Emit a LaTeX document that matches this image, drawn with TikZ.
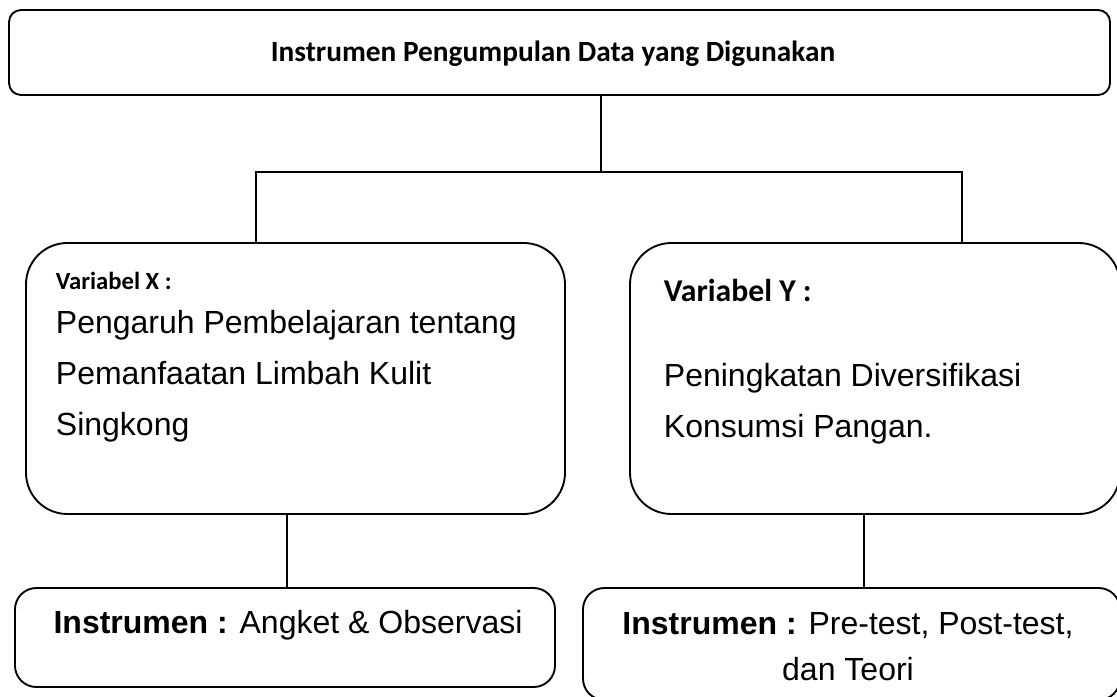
\documentclass[tikz,border=0pt]{standalone}
\usepackage{fontspec}
\setmainfont{Liberation Sans}
\newfontfamily\calibri{Carlito}
\usetikzlibrary{positioning}

\tikzset{
  topbox/.style={draw, rounded corners=9pt, inner sep=0pt},
  varbox/.style={draw, rounded corners=31pt, inner sep=0pt},
  instbox/.style={draw, rounded corners=16pt, inner sep=0pt},
  txt/.style={inner sep=0pt, align=left},
}

\begin{document}
\begin{tikzpicture}[x=0.75pt,y=-0.75pt,line width=1.4pt]
   \useasboundingbox (0,0) rectangle (1117,696);
   % boxes
   \node[topbox, minimum width=1101*0.75pt, minimum height=85*0.75pt] (top) at (559.5,52.5) {};
   \node[varbox, minimum width=539*0.75pt, minimum height=271*0.75pt] (varx) at (295.5,378.5) {};
   \node[varbox, minimum width=490*0.75pt, minimum height=271*0.75pt] (vary) at (875,378.5) {};
   \node[instbox, minimum width=540*0.75pt, minimum height=99*0.75pt] (instx) at (285,637.5) {};
   \node[instbox, minimum width=537*0.75pt, minimum height=112*0.75pt] (insty) at (851.5,644) {};
   % texts (base of a multi-line node = last line)
   \node[txt, anchor=base, font=\calibri\bfseries\fontsize{22}{26}\selectfont] (title) at (553,61.5) {Instrumen Pengumpulan Data yang Digunakan};
   \node[txt, anchor=base west, font=\calibri\bfseries\fontsize{18.5}{22}\selectfont] (xlab) at (55,289) {Variabel X :};
   \node[txt, anchor=base west, font=\fontsize{24}{38.25}\selectfont] (xtxt) at (55,435) {Pengaruh Pembelajaran tentang\\Pemanfaatan Limbah Kulit\\Singkong};
   \node[txt, anchor=base west, font=\calibri\bfseries\fontsize{23.8}{28}\selectfont] (ylab) at (663,301) {Variabel Y :};
   \node[txt, anchor=base west, font=\fontsize{24}{38.25}\selectfont] (ytxt) at (663,437) {Peningkatan Diversifikasi\\Konsumsi Pangan.};
   \node[txt, anchor=base, font=\fontsize{24}{34.5}\selectfont] (xins) at (288,633.5) {\textbf{Instrumen :} Angket \& Observasi};
   \node[txt, anchor=base, align=center, font=\fontsize{24}{34.5}\selectfont] (yins) at (848,680) {\textbf{Instrumen :} Pre-test, Post-test,\\dan Teori};
   % connectors
   \coordinate (split) at (601,172);
   \coordinate (jl) at (256,172);
   \coordinate (jr) at (962,172);
   \coordinate (lx) at (287,550);
   \coordinate (ly) at (864,550);
   \draw (top.south -| split) -- (split);
   \draw (varx.north -| jl) -- (jl) -- (jr) -- (vary.north -| jr);
   \draw (varx.south -| lx) -- (instx.north -| lx);
   \draw (vary.south -| ly) -- (insty.north -| ly);
\end{tikzpicture}
\end{document}
